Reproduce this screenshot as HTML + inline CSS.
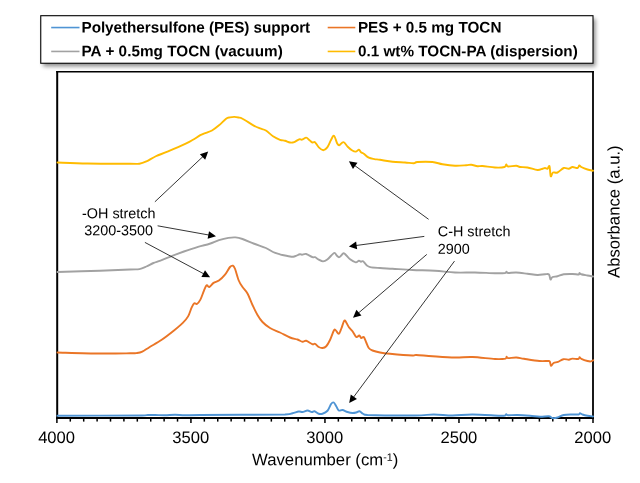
<!DOCTYPE html>
<html><head><meta charset="utf-8"><title>FTIR</title>
<style>
html,body{margin:0;padding:0;background:#fff;}
body{width:640px;height:483px;overflow:hidden;font-family:"Liberation Sans",sans-serif;}
svg{display:block;opacity:0.999;}
text{font-family:"Liberation Sans",sans-serif;fill:#000;}
.leg{font-weight:bold;font-size:15.27px;}
.tick{font-size:16.6px;text-anchor:middle;}
.ann{font-size:14.4px;}
.ttl{font-size:16.7px;}
</style></head><body>
<svg width="640" height="483" viewBox="0 0 640 483">
<defs><filter id="sh" x="-5%" y="-20%" width="110%" height="150%"><feGaussianBlur stdDeviation="1.9"/></filter></defs>
<rect x="0" y="0" width="640" height="483" fill="#fff"/>
<!-- legend -->
<rect x="43.2" y="18.8" width="552.3" height="47.6" fill="#000" opacity="0.45" filter="url(#sh)"/>
<rect x="40.75" y="15.7" width="552.25" height="47.55" fill="#fff" stroke="#000" stroke-width="1.1"/>
<line x1="51.2" y1="27.55" x2="79.5" y2="27.55" stroke="#4F94D4" stroke-width="1.6"/>
<line x1="51.2" y1="51.45" x2="79.5" y2="51.45" stroke="#A2A2A2" stroke-width="1.6"/>
<line x1="327.7" y1="27.55" x2="355.3" y2="27.55" stroke="#EA7526" stroke-width="1.6"/>
<line x1="327.7" y1="51.45" x2="355.3" y2="51.45" stroke="#FFBB00" stroke-width="1.6"/>
<text class="leg" transform="rotate(0.03 81.5 32.45)" x="81.5" y="32.45" textLength="228.7" lengthAdjust="spacing">Polyethersulfone (PES) support</text>
<text class="leg" transform="rotate(0.03 81.5 56.2)" x="81.5" y="56.2" textLength="201.3" lengthAdjust="spacing">PA + 0.5mg TOCN (vacuum)</text>
<text class="leg" transform="rotate(0.03 357.9 32.45)" x="357.9" y="32.45">PES + 0.5 mg TOCN</text>
<text class="leg" transform="rotate(0.03 357.9 56.2)" x="357.9" y="56.2" textLength="219.9" lengthAdjust="spacing">0.1 wt% TOCN-PA (dispersion)</text>
<!-- plot frame -->
<line x1="56.2" y1="71.75" x2="593.9" y2="71.75" stroke="#000" stroke-width="1.5"/>
<line x1="56.90" y1="418.00" x2="56.90" y2="423.00" stroke="#000" stroke-width="1.5"/><line x1="70.30" y1="418.00" x2="70.30" y2="421.60" stroke="#000" stroke-width="1.5"/><line x1="83.70" y1="418.00" x2="83.70" y2="421.60" stroke="#000" stroke-width="1.5"/><line x1="97.11" y1="418.00" x2="97.11" y2="421.60" stroke="#000" stroke-width="1.5"/><line x1="110.51" y1="418.00" x2="110.51" y2="421.60" stroke="#000" stroke-width="1.5"/><line x1="123.91" y1="418.00" x2="123.91" y2="421.60" stroke="#000" stroke-width="1.5"/><line x1="137.31" y1="418.00" x2="137.31" y2="421.60" stroke="#000" stroke-width="1.5"/><line x1="150.72" y1="418.00" x2="150.72" y2="421.60" stroke="#000" stroke-width="1.5"/><line x1="164.12" y1="418.00" x2="164.12" y2="421.60" stroke="#000" stroke-width="1.5"/><line x1="177.52" y1="418.00" x2="177.52" y2="421.60" stroke="#000" stroke-width="1.5"/><line x1="190.93" y1="418.00" x2="190.93" y2="423.00" stroke="#000" stroke-width="1.5"/><line x1="204.33" y1="418.00" x2="204.33" y2="421.60" stroke="#000" stroke-width="1.5"/><line x1="217.73" y1="418.00" x2="217.73" y2="421.60" stroke="#000" stroke-width="1.5"/><line x1="231.13" y1="418.00" x2="231.13" y2="421.60" stroke="#000" stroke-width="1.5"/><line x1="244.54" y1="418.00" x2="244.54" y2="421.60" stroke="#000" stroke-width="1.5"/><line x1="257.94" y1="418.00" x2="257.94" y2="421.60" stroke="#000" stroke-width="1.5"/><line x1="271.34" y1="418.00" x2="271.34" y2="421.60" stroke="#000" stroke-width="1.5"/><line x1="284.74" y1="418.00" x2="284.74" y2="421.60" stroke="#000" stroke-width="1.5"/><line x1="298.15" y1="418.00" x2="298.15" y2="421.60" stroke="#000" stroke-width="1.5"/><line x1="311.55" y1="418.00" x2="311.55" y2="421.60" stroke="#000" stroke-width="1.5"/><line x1="324.95" y1="418.00" x2="324.95" y2="423.00" stroke="#000" stroke-width="1.5"/><line x1="338.35" y1="418.00" x2="338.35" y2="421.60" stroke="#000" stroke-width="1.5"/><line x1="351.75" y1="418.00" x2="351.75" y2="421.60" stroke="#000" stroke-width="1.5"/><line x1="365.16" y1="418.00" x2="365.16" y2="421.60" stroke="#000" stroke-width="1.5"/><line x1="378.56" y1="418.00" x2="378.56" y2="421.60" stroke="#000" stroke-width="1.5"/><line x1="391.96" y1="418.00" x2="391.96" y2="421.60" stroke="#000" stroke-width="1.5"/><line x1="405.37" y1="418.00" x2="405.37" y2="421.60" stroke="#000" stroke-width="1.5"/><line x1="418.77" y1="418.00" x2="418.77" y2="421.60" stroke="#000" stroke-width="1.5"/><line x1="432.17" y1="418.00" x2="432.17" y2="421.60" stroke="#000" stroke-width="1.5"/><line x1="445.57" y1="418.00" x2="445.57" y2="421.60" stroke="#000" stroke-width="1.5"/><line x1="458.97" y1="418.00" x2="458.97" y2="423.00" stroke="#000" stroke-width="1.5"/><line x1="472.38" y1="418.00" x2="472.38" y2="421.60" stroke="#000" stroke-width="1.5"/><line x1="485.78" y1="418.00" x2="485.78" y2="421.60" stroke="#000" stroke-width="1.5"/><line x1="499.18" y1="418.00" x2="499.18" y2="421.60" stroke="#000" stroke-width="1.5"/><line x1="512.59" y1="418.00" x2="512.59" y2="421.60" stroke="#000" stroke-width="1.5"/><line x1="525.99" y1="418.00" x2="525.99" y2="421.60" stroke="#000" stroke-width="1.5"/><line x1="539.39" y1="418.00" x2="539.39" y2="421.60" stroke="#000" stroke-width="1.5"/><line x1="552.79" y1="418.00" x2="552.79" y2="421.60" stroke="#000" stroke-width="1.5"/><line x1="566.19" y1="418.00" x2="566.19" y2="421.60" stroke="#000" stroke-width="1.5"/><line x1="579.60" y1="418.00" x2="579.60" y2="421.60" stroke="#000" stroke-width="1.5"/><line x1="593.00" y1="418.00" x2="593.00" y2="423.00" stroke="#000" stroke-width="1.5"/>
<!-- axes -->
<line x1="56.2" y1="418" x2="593.9" y2="418" stroke="#000" stroke-width="1.9"/>
<line x1="57.2" y1="71" x2="57.2" y2="418.9" stroke="#000" stroke-width="2"/>
<line x1="593.0" y1="71" x2="593.0" y2="418.9" stroke="#000" stroke-width="1.8"/>
<!-- curves -->
<g fill="none" stroke-linejoin="round" stroke-linecap="round" stroke-width="1.9">
<path stroke="#4F94D4" d="M57.50 415.75 C71.58 415.71 126.92 415.62 142.00 415.50 C148.00 415.38 145.83 415.08 148.00 415.00 C150.17 414.92 152.17 414.96 155.00 415.00 C157.83 415.04 161.67 415.29 165.00 415.25 C168.33 415.21 171.67 414.75 175.00 414.75 C178.33 414.75 180.83 415.21 185.00 415.25 C189.17 415.29 185.00 415.12 200.00 415.00 C216.67 414.88 269.58 414.79 285.00 414.50 C292.50 414.21 290.21 413.75 292.50 413.25 C294.79 412.75 297.08 411.71 298.75 411.50 C300.42 411.29 301.04 412.17 302.50 412.00 C303.96 411.83 305.96 410.50 307.50 410.50 C309.04 410.50 310.58 411.88 311.75 412.00 C312.92 412.12 313.33 410.96 314.50 411.25 C315.67 411.54 317.42 413.33 318.75 413.75 C320.08 414.17 321.04 414.25 322.50 413.75 C323.96 413.25 326.04 412.42 327.50 410.75 C328.96 409.08 330.21 405.12 331.25 403.75 C332.29 402.38 332.92 402.08 333.75 402.50 C334.58 402.92 335.42 404.92 336.25 406.25 C337.08 407.58 337.71 409.88 338.75 410.50 C339.79 411.12 341.04 409.75 342.50 410.00 C343.96 410.25 345.83 411.50 347.50 412.00 C349.17 412.50 351.04 412.92 352.50 413.00 C353.96 413.08 355.08 412.79 356.25 412.50 C357.42 412.21 358.38 411.04 359.50 411.25 C360.62 411.46 361.67 413.12 363.00 413.75 C364.33 414.38 363.00 414.71 367.50 415.00 C376.17 415.29 403.96 415.58 415.00 415.50 C426.04 415.42 427.50 414.50 433.75 414.50 C440.00 414.50 446.04 415.50 452.50 415.50 C458.96 415.50 464.58 414.46 472.50 414.50 C480.42 414.54 494.58 415.58 500.00 415.75 C505.00 415.92 503.96 415.75 505.00 415.50 C506.04 415.25 505.75 414.30 506.25 414.25 C506.75 414.20 506.25 415.07 508.00 415.20 C509.88 415.32 513.83 414.91 517.50 415.00 C521.17 415.09 526.25 415.46 530.00 415.75 C533.75 416.04 536.88 416.67 540.00 416.75 C543.12 416.83 546.67 416.04 548.75 416.25 C550.83 416.46 551.04 417.79 552.50 418.00 C553.96 418.21 555.62 418.00 557.50 417.50 C559.38 417.00 561.25 415.50 563.75 415.00 C566.25 414.50 570.00 414.58 572.50 414.50 C575.00 414.42 577.50 414.71 578.75 414.50 C580.00 414.29 579.38 413.25 580.00 413.25 C580.62 413.25 581.25 414.08 582.50 414.50 C583.75 414.92 585.75 415.42 587.50 415.75 C589.25 416.08 592.08 416.38 593.00 416.50"/>
<path stroke="#EA7526" d="M57.50 352.50 C64.58 352.67 87.92 353.37 100.00 353.50 C112.08 353.63 123.83 353.38 130.00 353.30 C136.17 353.22 134.95 353.28 137.00 353.00 C139.05 352.72 140.23 352.57 142.30 351.60 C144.37 350.63 146.17 349.17 149.40 347.20 C152.63 345.23 157.60 342.58 161.70 339.80 C165.80 337.02 170.48 333.32 174.00 330.50 C177.52 327.68 180.45 325.25 182.80 322.90 C185.15 320.55 186.63 318.95 188.10 316.40 C189.57 313.85 190.57 309.80 191.60 307.60 C192.63 305.40 193.42 303.80 194.30 303.20 C195.18 302.60 195.88 304.60 196.90 304.00 C197.92 303.40 199.23 301.80 200.40 299.60 C201.57 297.40 202.87 293.20 203.90 290.80 C204.93 288.40 205.72 285.83 206.60 285.20 C207.48 284.57 208.03 287.38 209.20 287.00 C210.37 286.62 211.98 283.97 213.60 282.90 C215.22 281.83 217.00 281.98 218.90 280.60 C220.80 279.22 223.15 276.87 225.00 274.60 C226.85 272.33 228.67 268.48 230.00 267.00 C231.33 265.52 232.17 265.46 233.00 265.75 C233.83 266.04 234.04 266.29 235.00 268.75 C235.96 271.21 237.50 277.46 238.75 280.50 C240.00 283.54 241.04 284.83 242.50 287.00 C243.96 289.17 245.83 290.50 247.50 293.50 C249.17 296.50 250.83 301.42 252.50 305.00 C254.17 308.58 255.83 312.17 257.50 315.00 C259.17 317.83 260.42 319.83 262.50 322.00 C264.58 324.17 267.08 326.25 270.00 328.00 C272.92 329.75 276.67 330.92 280.00 332.50 C283.33 334.08 287.08 336.33 290.00 337.50 C292.92 338.67 295.42 338.79 297.50 339.50 C299.58 340.21 301.04 341.54 302.50 341.75 C303.96 341.96 304.58 340.33 306.25 340.75 C307.92 341.17 311.04 343.75 312.50 344.25 C313.96 344.75 313.96 343.29 315.00 343.75 C316.04 344.21 317.50 346.29 318.75 347.00 C320.00 347.71 321.25 348.12 322.50 348.00 C323.75 347.88 325.00 347.58 326.25 346.25 C327.50 344.92 328.75 342.58 330.00 340.00 C331.25 337.42 332.83 332.42 333.75 330.75 C334.67 329.08 334.67 329.50 335.50 330.00 C336.33 330.50 337.79 333.96 338.75 333.75 C339.71 333.54 340.33 330.92 341.25 328.75 C342.17 326.58 343.42 321.79 344.25 320.75 C345.08 319.71 345.50 321.46 346.25 322.50 C347.00 323.54 347.71 325.54 348.75 327.00 C349.79 328.46 351.25 329.58 352.50 331.25 C353.75 332.92 355.12 336.29 356.25 337.00 C357.38 337.71 358.42 335.33 359.25 335.50 C360.08 335.67 360.50 337.75 361.25 338.00 C362.00 338.25 362.92 336.25 363.75 337.00 C364.58 337.75 365.42 340.67 366.25 342.50 C367.08 344.33 367.71 346.67 368.75 348.00 C369.79 349.33 370.62 349.75 372.50 350.50 C374.38 351.25 377.08 351.96 380.00 352.50 C382.92 353.04 384.58 353.25 390.00 353.75 C395.42 354.25 408.12 355.29 412.50 355.50 C416.25 355.71 412.92 354.88 416.25 355.00 C419.58 355.12 426.04 355.83 432.50 356.25 C438.96 356.67 448.33 357.38 455.00 357.50 C461.67 357.62 465.83 356.75 472.50 357.00 C479.17 357.25 489.50 358.73 495.00 359.00 C500.50 359.27 503.57 358.97 505.50 358.60 C506.60 358.23 506.20 356.88 506.60 356.80 C507.00 356.72 506.60 357.98 507.90 358.10 C509.53 358.22 513.72 357.38 516.40 357.50 C519.08 357.62 520.17 358.22 524.00 358.80 C527.83 359.38 535.38 360.63 539.40 361.00 C543.42 361.37 546.35 360.87 548.10 361.00 C549.85 361.13 549.42 361.00 549.90 361.80 C550.38 362.60 550.38 365.60 551.00 365.80 C551.62 366.00 552.43 363.67 553.60 363.00 C554.77 362.33 556.37 362.43 558.00 361.80 C559.63 361.17 561.58 359.55 563.40 359.20 C565.22 358.85 567.43 359.80 568.90 359.70 C570.37 359.60 570.63 358.72 572.20 358.60 C573.77 358.48 577.07 359.22 578.30 359.00 C579.53 358.78 579.08 357.33 579.60 357.30 C580.12 357.27 580.08 358.18 581.40 358.80 C582.72 359.42 585.93 360.57 587.50 361.00 C589.07 361.43 589.85 361.52 590.80 361.40 C591.75 361.28 592.80 360.48 593.20 360.30"/>
<path stroke="#A2A2A2" d="M57.50 272.00 C64.58 271.79 87.92 271.17 100.00 270.75 C112.08 270.33 123.43 269.77 130.00 269.50 C136.57 269.23 136.67 269.60 139.40 269.10 C142.13 268.60 144.07 267.52 146.40 266.50 C148.73 265.48 151.05 263.98 153.40 263.00 C155.75 262.02 157.37 261.78 160.50 260.60 C163.63 259.42 168.30 257.42 172.20 255.90 C176.10 254.38 179.60 253.02 183.90 251.50 C188.20 249.98 193.70 248.09 198.00 246.80 C202.30 245.51 206.20 244.85 209.70 243.75 C213.20 242.65 215.88 241.17 219.00 240.20 C222.12 239.22 225.65 238.37 228.40 237.90 C231.15 237.43 233.15 237.22 235.50 237.40 C237.85 237.58 239.38 237.94 242.50 239.00 C245.62 240.06 250.30 242.25 254.20 243.75 C258.10 245.25 262.77 246.62 265.90 248.00 C269.03 249.38 270.65 250.95 273.00 252.00 C275.35 253.05 278.42 253.80 280.00 254.30 C281.58 254.80 280.62 254.59 282.50 255.00 C284.38 255.41 289.17 256.54 291.25 256.75 C293.33 256.96 293.57 256.66 295.00 256.25 C296.43 255.84 298.63 254.56 299.80 254.30 C300.97 254.04 300.93 254.75 302.00 254.70 C303.07 254.65 304.45 253.58 306.20 254.00 C307.95 254.42 311.03 256.67 312.50 257.20 C313.97 257.73 313.95 256.80 315.00 257.20 C316.05 257.60 317.47 258.90 318.80 259.60 C320.13 260.30 321.58 261.40 323.00 261.40 C324.42 261.40 325.47 261.00 327.30 259.60 C329.13 258.20 332.47 253.72 334.00 253.00 C335.53 252.28 335.67 254.60 336.50 255.30 C337.33 256.00 338.17 257.20 339.00 257.20 C339.83 257.20 340.65 255.95 341.50 255.30 C342.35 254.65 342.60 252.58 344.10 253.30 C345.60 254.02 348.55 258.08 350.50 259.60 C352.45 261.12 354.40 262.22 355.80 262.40 C357.20 262.58 358.03 260.82 358.90 260.70 C359.77 260.58 360.30 261.60 361.00 261.70 C361.70 261.80 362.17 260.72 363.10 261.30 C364.03 261.88 365.42 264.23 366.60 265.20 C367.78 266.17 367.97 266.63 370.20 267.10 C372.43 267.57 376.28 267.73 380.00 268.00 C383.72 268.27 387.08 268.42 392.50 268.75 C397.92 269.08 405.42 269.67 412.50 270.00 C419.58 270.33 427.92 270.33 435.00 270.75 C442.08 271.17 448.33 272.21 455.00 272.50 C461.67 272.79 468.33 272.38 475.00 272.50 C481.67 272.62 490.00 273.17 495.00 273.25 C500.00 273.33 503.08 273.25 505.00 273.00 C506.50 272.75 506.00 271.75 506.50 271.75 C507.00 271.75 506.50 272.88 508.00 273.00 C509.62 273.12 513.00 272.38 516.25 272.50 C519.50 272.62 523.96 273.33 527.50 273.75 C531.04 274.17 534.58 274.92 537.50 275.00 C540.42 275.08 543.08 274.33 545.00 274.25 C546.92 274.17 548.08 273.62 549.00 274.50 C549.92 275.38 549.92 279.08 550.50 279.50 C551.08 279.92 551.33 277.54 552.50 277.00 C553.67 276.46 555.62 276.71 557.50 276.25 C559.38 275.79 561.25 274.62 563.75 274.25 C566.25 273.88 570.00 273.96 572.50 274.00 C575.00 274.04 577.58 274.67 578.75 274.50 C579.50 274.33 579.08 273.04 579.50 273.00 C579.92 272.96 579.92 273.83 581.25 274.25 C582.58 274.67 585.54 275.12 587.50 275.50 C589.46 275.88 592.08 276.33 593.00 276.50"/>
<path stroke="#FFBB00" d="M57.50 162.50 C62.50 162.67 75.42 163.29 87.50 163.50 C99.58 163.71 121.35 163.71 130.00 163.75 C138.65 163.79 136.67 164.14 139.40 163.75 C142.13 163.36 143.67 162.65 146.40 161.40 C149.13 160.15 152.28 157.88 155.80 156.25 C159.32 154.62 162.43 153.74 167.50 151.60 C172.57 149.46 182.00 145.37 186.25 143.40 C190.50 141.43 190.66 141.17 193.00 139.80 C195.34 138.43 198.13 136.37 200.30 135.20 C202.47 134.03 204.05 133.58 206.00 132.80 C207.95 132.02 209.83 131.75 212.00 130.50 C214.17 129.25 216.65 127.26 219.00 125.30 C221.35 123.34 224.27 120.07 226.10 118.75 C227.93 117.43 228.63 117.71 230.00 117.40 C231.37 117.09 232.88 116.88 234.30 116.90 C235.72 116.92 237.13 117.19 238.50 117.50 C239.87 117.81 239.88 117.37 242.50 118.75 C245.12 120.13 251.28 124.19 254.20 125.80 C257.12 127.41 258.05 127.62 260.00 128.40 C261.95 129.18 263.73 129.18 265.90 130.50 C268.07 131.82 270.65 134.75 273.00 136.30 C275.35 137.85 278.00 139.06 280.00 139.80 C282.00 140.54 283.33 140.30 285.00 140.75 C286.67 141.20 288.47 142.28 290.00 142.50 C291.53 142.72 292.68 142.63 294.20 142.10 C295.72 141.57 297.80 139.70 299.10 139.30 C300.40 138.90 300.82 139.98 302.00 139.70 C303.18 139.42 304.98 137.55 306.20 137.60 C307.42 137.65 308.25 139.18 309.30 140.00 C310.35 140.82 311.55 142.13 312.50 142.50 C313.45 142.87 313.95 141.38 315.00 142.20 C316.05 143.02 317.42 146.07 318.80 147.40 C320.18 148.73 321.88 150.20 323.30 150.20 C324.72 150.20 326.02 149.10 327.30 147.40 C328.58 145.70 329.88 141.94 331.00 140.00 C332.12 138.06 332.98 135.22 334.00 135.75 C335.02 136.28 336.23 141.61 337.10 143.20 C337.97 144.79 338.15 145.48 339.20 145.30 C340.25 145.12 341.98 141.87 343.40 142.10 C344.82 142.33 346.28 145.35 347.70 146.70 C349.12 148.05 350.55 149.38 351.90 150.20 C353.25 151.02 354.63 151.67 355.80 151.60 C356.97 151.53 358.03 149.68 358.90 149.80 C359.77 149.92 360.18 151.64 361.00 152.30 C361.82 152.96 362.50 152.85 363.80 153.75 C365.10 154.65 367.03 156.81 368.80 157.70 C370.57 158.59 372.53 158.75 374.40 159.10 C376.27 159.45 376.98 159.36 380.00 159.80 C383.02 160.24 388.33 161.30 392.50 161.75 C396.67 162.20 401.46 162.25 405.00 162.50 C408.54 162.75 411.67 163.33 413.75 163.25 C415.83 163.17 414.38 162.21 417.50 162.00 C420.62 161.79 428.33 161.62 432.50 162.00 C436.67 162.38 438.75 163.62 442.50 164.25 C446.25 164.88 451.04 165.58 455.00 165.75 C458.96 165.92 463.54 165.42 466.25 165.25 C468.96 165.08 469.38 164.58 471.25 164.75 C473.12 164.92 475.62 166.04 477.50 166.25 C479.38 166.46 479.58 165.79 482.50 166.00 C485.42 166.21 491.33 167.33 495.00 167.50 C498.67 167.67 502.62 167.50 504.50 167.00 C506.25 166.50 505.67 164.58 506.25 164.50 C506.83 164.42 506.33 166.29 508.00 166.50 C509.67 166.71 514.25 165.67 516.25 165.75 C518.25 165.83 518.12 166.71 520.00 167.00 C521.88 167.29 524.58 167.00 527.50 167.50 C530.42 168.00 535.00 169.79 537.50 170.00 C540.00 170.21 541.25 169.08 542.50 168.75 C543.75 168.42 544.17 168.00 545.00 168.00 C545.83 168.00 546.75 169.04 547.50 168.75 C548.25 168.46 548.96 165.00 549.50 166.25 C550.04 167.50 550.17 175.21 550.75 176.25 C551.33 177.29 551.88 173.12 553.00 172.50 C554.12 171.88 555.71 173.25 557.50 172.50 C559.29 171.75 561.88 168.62 563.75 168.00 C565.62 167.38 567.29 168.92 568.75 168.75 C570.21 168.58 571.04 167.12 572.50 167.00 C573.96 166.88 576.38 168.25 577.50 168.00 C578.62 167.75 578.62 165.67 579.25 165.50 C579.88 165.33 579.88 166.33 581.25 167.00 C582.62 167.67 585.54 168.88 587.50 169.50 C589.46 170.12 592.08 170.54 593.00 170.75"/>
</g>
<!-- arrows -->
<line x1="154.90" y1="201.80" x2="203.25" y2="156.26" stroke="#2a2a2a" stroke-width="0.95"/><polygon points="208.20,151.60 205.16,159.75 199.88,154.15" fill="#000"/>
<line x1="157.60" y1="225.80" x2="209.31" y2="235.10" stroke="#2a2a2a" stroke-width="0.95"/><polygon points="216.00,236.30 207.64,238.71 209.00,231.13" fill="#000"/>
<line x1="144.90" y1="242.40" x2="204.10" y2="274.00" stroke="#2a2a2a" stroke-width="0.95"/><polygon points="210.10,277.20 201.41,276.92 205.03,270.13" fill="#000"/>
<line x1="428.60" y1="219.30" x2="354.40" y2="165.30" stroke="#2a2a2a" stroke-width="0.95"/><polygon points="348.90,161.30 357.47,162.78 352.94,169.00" fill="#000"/>
<line x1="424.30" y1="236.40" x2="355.64" y2="245.55" stroke="#2a2a2a" stroke-width="0.95"/><polygon points="348.90,246.45 356.12,241.60 357.14,249.24" fill="#000"/>
<line x1="426.80" y1="254.40" x2="358.16" y2="313.27" stroke="#2a2a2a" stroke-width="0.95"/><polygon points="353.00,317.70 356.41,309.70 361.43,315.54" fill="#000"/>
<line x1="454.50" y1="261.10" x2="353.25" y2="397.54" stroke="#2a2a2a" stroke-width="0.95"/><polygon points="349.20,403.00 350.76,394.44 356.94,399.03" fill="#000"/>
<!-- annotations -->
<text class="ann" transform="rotate(0.03 82 218.2)" x="82" y="218.2">-OH stretch</text>
<text class="ann" transform="rotate(0.03 84.3 235.3)" x="84.3" y="235.3">3200-3500</text>
<text class="ann" transform="rotate(0.03 437.8 236.2)" x="437.8" y="236.2">C-H stretch</text>
<text class="ann" transform="rotate(0.03 437.8 253.8)" x="437.8" y="253.8">2900</text>
<!-- tick labels -->
<text class="tick" transform="rotate(0.03 56.6 443.0)" x="56.6" y="443.0">4000</text>
<text class="tick" transform="rotate(0.03 190.7 443.0)" x="190.7" y="443.0">3500</text>
<text class="tick" transform="rotate(0.03 324.7 443.0)" x="324.7" y="443.0">3000</text>
<text class="tick" transform="rotate(0.03 458.9 443.0)" x="458.9" y="443.0">2500</text>
<text class="tick" transform="rotate(0.03 592.8 443.0)" x="592.8" y="443.0">2000</text>
<!-- axis titles -->
<text class="ttl" transform="rotate(0.03 252.1 465.3)" x="252.1" y="465.3">Wavenumber (cm<tspan font-size="10.7px" dy="-4.5">-1</tspan><tspan dy="4.5">)</tspan></text>
<text class="ttl" transform="translate(619.4,278) rotate(-89.97)">Absorbance (a.u.)</text>
</svg>
</body></html>
